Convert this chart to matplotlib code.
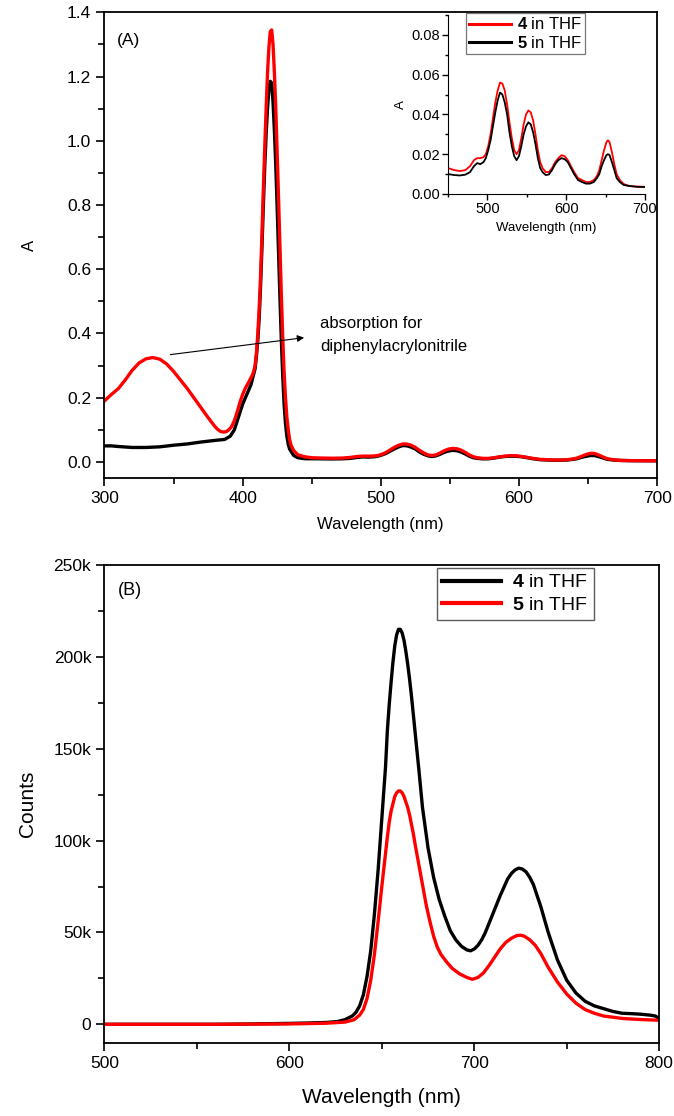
import matplotlib
matplotlib.use("Agg")
import matplotlib.pyplot as plt
from matplotlib.ticker import MultipleLocator, FuncFormatter

plt.rcParams['font.family'] = ['Liberation Sans', 'DejaVu Sans']
plt.rcParams['mathtext.fontset'] = 'custom'
plt.rcParams['mathtext.rm'] = 'Liberation Sans'
plt.rcParams['mathtext.bf'] = 'Liberation Sans:bold'

# ---------------- Panel A: absorption ----------------
wl_a4 = [300, 305, 310, 315, 320, 325, 330, 335, 340, 345, 350, 355, 360, 365, 370, 375, 378, 380, 382, 384,
         386, 388, 390, 392, 394, 396, 398, 400, 402, 404, 406, 407, 408, 409, 410, 411, 412, 413, 414, 415,
         416, 417, 418, 419, 420, 421, 422, 423, 424, 425, 426, 427, 428, 429, 430, 431, 432, 433, 434, 435,
         437, 440, 445, 450, 458, 465, 472, 478, 483, 487, 491, 495, 498, 501, 504, 507, 510, 513, 516, 519,
         522, 525, 528, 531, 534, 537, 540, 543, 546, 549, 552, 555, 558, 561, 564, 567, 570, 574, 578, 582,
         586, 590, 594, 598, 602, 606, 610, 615, 620, 625, 630, 635, 639, 642, 645, 648, 651, 653, 655, 658,
         661, 664, 668, 673, 680, 690, 700]
abs_4 = [0.190, 0.210, 0.228, 0.255, 0.285, 0.308, 0.321, 0.325, 0.320, 0.305, 0.282, 0.255, 0.228, 0.198,
         0.168, 0.138, 0.121, 0.110, 0.101, 0.095, 0.093, 0.094, 0.100, 0.110, 0.128, 0.155, 0.185, 0.210,
         0.230, 0.245, 0.262, 0.270, 0.282, 0.300, 0.340, 0.400, 0.480, 0.580, 0.710, 0.850, 0.980, 1.100,
         1.210, 1.290, 1.340, 1.345, 1.300, 1.210, 1.100, 0.960, 0.820, 0.670, 0.520, 0.390, 0.280, 0.200,
         0.140, 0.100, 0.070, 0.052, 0.035, 0.022, 0.016, 0.013, 0.012, 0.0115, 0.012, 0.014, 0.017, 0.018,
         0.018, 0.0185, 0.020, 0.024, 0.030, 0.038, 0.046, 0.052, 0.056, 0.0555, 0.052, 0.045, 0.036, 0.028,
         0.022, 0.020, 0.022, 0.028, 0.035, 0.040, 0.042, 0.041, 0.037, 0.030, 0.022, 0.016, 0.013, 0.011,
         0.011, 0.013, 0.016, 0.018, 0.0195, 0.019, 0.017, 0.014, 0.011, 0.008, 0.007, 0.006, 0.006, 0.007,
         0.009, 0.012, 0.017, 0.022, 0.026, 0.027, 0.026, 0.021, 0.015, 0.010, 0.007, 0.005, 0.004, 0.0037,
         0.0036]

wl_a5 = [300, 305, 310, 320, 330, 340, 350, 360, 370, 380, 387, 391, 394, 397, 400, 403, 406, 409, 410, 411,
         412, 413, 414, 415, 416, 417, 418, 419, 420, 421, 422, 423, 424, 425, 426, 427, 428, 429, 430, 431,
         432, 433, 434, 437, 440, 445, 450, 458, 465, 472, 478, 483, 487, 491, 495, 498, 501, 504, 507, 510,
         513, 516, 519, 522, 525, 528, 531, 534, 537, 540, 543, 546, 549, 552, 555, 558, 561, 564, 567, 570,
         574, 578, 582, 586, 590, 594, 598, 602, 606, 610, 615, 620, 625, 630, 635, 639, 642, 645, 648, 651,
         653, 655, 658, 661, 664, 668, 673, 680, 690, 700]
abs_5 = [0.050, 0.050, 0.048, 0.045, 0.045, 0.047, 0.052, 0.056, 0.062, 0.067, 0.070, 0.080, 0.100, 0.140,
         0.180, 0.210, 0.240, 0.290, 0.330, 0.380, 0.450, 0.550, 0.670, 0.800, 0.920, 1.020, 1.100, 1.160,
         1.185, 1.180, 1.120, 1.030, 0.920, 0.790, 0.650, 0.510, 0.380, 0.270, 0.180, 0.120, 0.080, 0.055,
         0.040, 0.020, 0.013, 0.010, 0.010, 0.0095, 0.0093, 0.0097, 0.011, 0.014, 0.0155, 0.015, 0.016, 0.018,
         0.022, 0.027, 0.034, 0.041, 0.047, 0.051, 0.050, 0.046, 0.040, 0.031, 0.024, 0.019, 0.017, 0.019,
         0.024, 0.030, 0.034, 0.036, 0.035, 0.031, 0.025, 0.018, 0.013, 0.011, 0.0095, 0.0098, 0.012, 0.015,
         0.017, 0.018, 0.0175, 0.016, 0.013, 0.010, 0.007, 0.006, 0.0052, 0.0052, 0.006, 0.008, 0.010, 0.014,
         0.017, 0.0195, 0.020, 0.0195, 0.016, 0.012, 0.008, 0.006, 0.0045, 0.004, 0.0036, 0.0035]

# ---------------- Panel B: emission ----------------
wl_b4 = [500, 520, 540, 560, 580, 600, 610, 620, 626, 630, 634, 636, 638, 640, 642, 644, 646, 648, 650, 652,
         653, 654, 655, 656, 657, 658, 659, 660, 661, 662, 663, 664, 665, 666, 667, 668, 669, 670, 672, 675,
         678, 681, 684, 687, 690, 693, 696, 698, 700, 702, 704, 706, 710, 714, 718, 720, 722, 724, 726, 728,
         730, 732, 736, 740, 745, 750, 755, 760, 765, 770, 775, 780, 785, 790, 795, 798, 800]
cnt_4 = [0, 0, 0, 0, 200, 500, 700, 1000, 1500, 2500, 4500, 6500, 10000, 16000, 26000, 40000, 60000, 84000,
         112000, 140000, 160000, 174000, 186000, 197000, 206000, 212000, 215000, 215000, 213000, 209000,
         203000, 196000, 188000, 179000, 169000, 159000, 149000, 139000, 118000, 96000, 80000, 68000, 59000,
         51000, 46000, 42500, 40500, 40000, 41000, 43000, 46000, 50000, 60000, 70000, 79000, 82000, 84000,
         85000, 84500, 83000, 80000, 76000, 64000, 50000, 35000, 24000, 17000, 12500, 10000, 8500, 7000, 6000,
         5800, 5500, 5000, 4500, 3000]

wl_b5 = [500, 560, 600, 620, 630, 635, 638, 640, 642, 644, 646, 648, 650, 652, 653, 654, 655, 656, 657, 658,
         659, 660, 661, 662, 663, 664, 665, 666, 667, 668, 670, 672, 674, 676, 678, 680, 682, 685, 688, 692,
         696, 699, 702, 705, 708, 711, 714, 717, 720, 723, 725, 727, 730, 733, 736, 740, 745, 750, 755, 760,
         765, 770, 780, 790, 800]
cnt_5 = [0, 0, 200, 600, 1200, 2500, 5000, 8000, 14000, 24000, 38000, 56000, 75000, 93000, 102000, 110000,
         116000, 120000, 124000, 126000, 127000, 127000, 126000, 124000, 121000, 118000, 114000, 109000,
         104000, 98000, 87000, 76000, 65000, 56000, 48000, 42000, 38000, 34000, 30500, 27500, 25500, 24500,
         25500, 28000, 32000, 36500, 41000, 44500, 46800, 48300, 48500, 48000, 46000, 43000, 38500, 31000,
         23000, 16500, 11500, 8000, 6000, 4500, 3200, 2600, 2200]

RED = '#ff0000'
BLK = '#000000'

fig = plt.figure(figsize=(6.74, 11.16), dpi=100)

# ----- Panel A -----
axA = fig.add_axes([0.155, 0.5717, 0.820, 0.4173])
axA.plot(wl_a5, abs_5, color=BLK, lw=2.4)
axA.plot(wl_a4, abs_4, color=RED, lw=2.4)
axA.set_xlim(300, 700)
axA.set_ylim(-0.05, 1.4)
axA.xaxis.set_major_locator(MultipleLocator(100))
axA.xaxis.set_minor_locator(MultipleLocator(50))
axA.yaxis.set_major_locator(MultipleLocator(0.2))
axA.yaxis.set_minor_locator(MultipleLocator(0.1))
axA.yaxis.set_major_formatter(FuncFormatter(lambda v, p: f"{v:.1f}"))
axA.tick_params(which='both', direction='out', top=False, right=False, labelsize=12.5, width=1.2)
axA.tick_params(which='major', length=6)
axA.tick_params(which='minor', length=4)
for s in axA.spines.values():
    s.set_linewidth(1.3)
axA.set_xlabel('Wavelength (nm)', fontsize=12, labelpad=8)
axA.set_ylabel('A', fontsize=12, labelpad=22)
axA.text(0.022, 0.955, '(A)', transform=axA.transAxes, fontsize=12.5, va='top', ha='left')
axA.annotate('', xy=(446.5, 0.388), xytext=(345.7, 0.333),
             arrowprops=dict(arrowstyle='-|>', color='black', lw=0.8, mutation_scale=10))
axA.text(456, 0.43, 'absorption for', fontsize=12, va='center', ha='left')
axA.text(456, 0.36, 'diphenylacrylonitrile', fontsize=12, va='center', ha='left')

# ----- Inset -----
axI = fig.add_axes([0.6647, 0.8262, 0.2923, 0.1604])
axI.plot(wl_a4, abs_4, color=RED, lw=1.3, label=r'$\mathbf{4}$ in THF')
axI.plot(wl_a5, abs_5, color=BLK, lw=1.3, label=r'$\mathbf{5}$ in THF')
axI.set_xlim(450, 700)
axI.set_ylim(0, 0.09)
axI.xaxis.set_major_locator(MultipleLocator(100))
axI.xaxis.set_minor_locator(MultipleLocator(50))
axI.yaxis.set_major_locator(MultipleLocator(0.02))
axI.yaxis.set_minor_locator(MultipleLocator(0.01))
axI.yaxis.set_major_formatter(FuncFormatter(lambda v, p: f"{v:.2f}"))
axI.spines['top'].set_visible(False)
axI.spines['right'].set_visible(False)
axI.tick_params(which='both', direction='out', labelsize=10.5, width=1.0)
axI.tick_params(which='major', length=4, pad=2)
axI.tick_params(which='minor', length=2.5)
axI.set_xlabel('Wavelength (nm)', fontsize=9.5, labelpad=4)
axI.set_ylabel('A', fontsize=9.5, labelpad=3)
legI = axI.legend(loc='upper left', bbox_to_anchor=(0.09, 1.01), fontsize=12, frameon=True,
                  fancybox=False, edgecolor='#555555', handlelength=2.5, borderpad=0.2,
                  labelspacing=0.15, handletextpad=0.35, borderaxespad=0.0)
legI.get_frame().set_linewidth(0.9)
for l in legI.get_lines():
    l.set_linewidth(2.2)

# ----- Panel B -----
axB = fig.add_axes([0.155, 0.0657, 0.823, 0.428])
axB.plot(wl_b4, cnt_4, color=BLK, lw=2.4, label=r'$\mathbf{4}$ in THF')
axB.plot(wl_b5, cnt_5, color=RED, lw=2.4, label=r'$\mathbf{5}$ in THF')
axB.set_xlim(500, 800)
axB.set_ylim(-10000, 250000)
axB.xaxis.set_major_locator(MultipleLocator(100))
axB.xaxis.set_minor_locator(MultipleLocator(50))
axB.yaxis.set_major_locator(MultipleLocator(50000))
axB.yaxis.set_minor_locator(MultipleLocator(25000))
axB.yaxis.set_major_formatter(FuncFormatter(lambda v, p: '0' if v == 0 else f"{int(v/1000)}k"))
axB.tick_params(which='both', direction='out', top=False, right=False, labelsize=12.5, width=1.2)
axB.tick_params(which='major', length=6)
axB.tick_params(which='minor', length=4)
for s in axB.spines.values():
    s.set_linewidth(1.3)
axB.set_xlabel('Wavelength (nm)', fontsize=15, labelpad=12)
axB.set_ylabel('Counts', fontsize=15, labelpad=12)
axB.text(0.025, 0.965, '(B)', transform=axB.transAxes, fontsize=13, va='top', ha='left')
legB = axB.legend(loc='upper right', bbox_to_anchor=(0.883, 0.994), fontsize=14, frameon=True,
                  fancybox=False, edgecolor='#333333', handlelength=3.0, borderpad=0.3,
                  labelspacing=0.25, handletextpad=0.6, borderaxespad=0.0)
legB.get_frame().set_linewidth(1.0)
for l in legB.get_lines():
    l.set_linewidth(3.0)

fig.savefig('out.png', dpi=100)
